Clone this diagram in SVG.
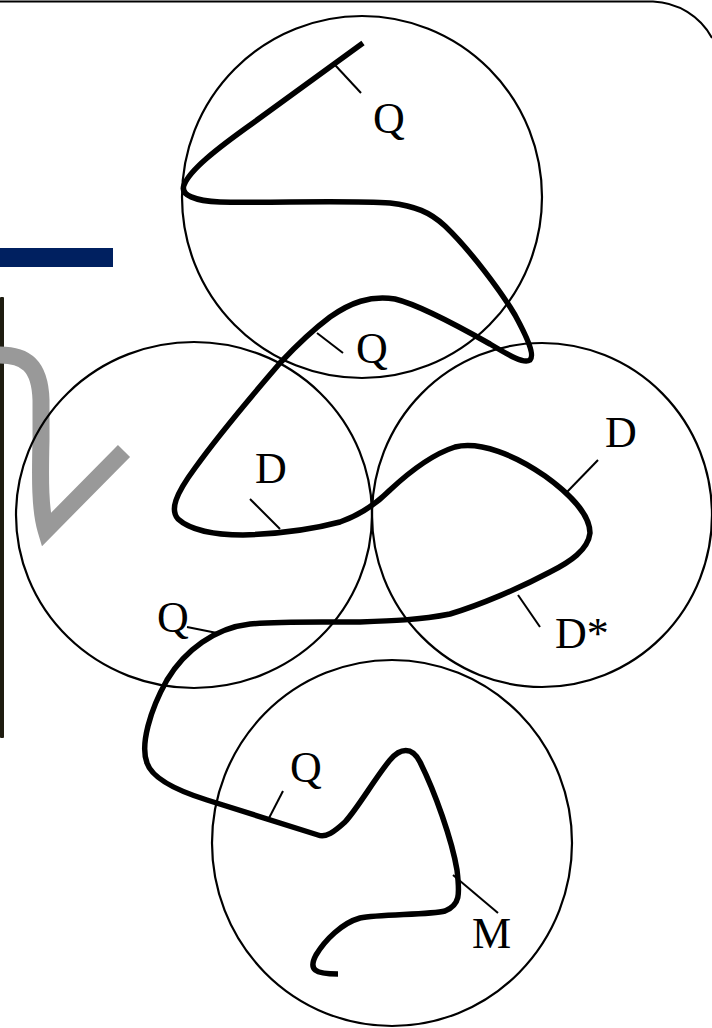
<svg xmlns="http://www.w3.org/2000/svg" width="712" height="1028" viewBox="0 0 712 1028">
<style>
.c{fill:none;stroke:#000;stroke-width:2.2}
.t{fill:none;stroke:#000;stroke-width:2}
.lab{font-family:"Liberation Serif","Times New Roman",serif;font-size:44px;fill:#000}
</style>
<rect width="712" height="1028" fill="#fff"/>
<g id="frame">
<path d="M0,1.5 L653,1.5 A70,70 0 0 1 712,38" fill="none" stroke="#000" stroke-width="2"/>
<rect x="0" y="248" width="113" height="19" fill="#002060"/>
<rect x="0" y="297" width="4" height="441" rx="1" fill="#1e1c10"/>
<path d="M0,355 C25,355 40,365 41,400 L41,440 C40,480 40,510 46,530 L124,451" fill="none" stroke="#999" stroke-width="17"/>
</g>
<g id="circle-top"><ellipse class="c" cx="362" cy="197" rx="180" ry="181"/></g>
<g id="circle-left"><ellipse class="c" cx="194" cy="515" rx="178" ry="173"/></g>
<g id="circle-right"><ellipse class="c" cx="542" cy="515" rx="170" ry="172"/></g>
<g id="circle-bottom"><ellipse class="c" cx="392" cy="843" rx="180" ry="183"/></g>
<g id="connectors">
<path fill="none" stroke="#000" stroke-width="5.5" stroke-linecap="butt" stroke-linejoin="round" d="M363,43 L253,123 C215,150 190,170 184,185 C180,195 195,201 220,202 C270,203 350,200 390,203 C415,206 430,212 445,226 C470,250 500,290 515,315 C527,337 535,355 530,360 C524,364 510,356 490,344 C460,327 420,305 395,299 C370,295 350,303 330,317 C310,332 295,347 280,363 C255,392 220,433 195,468 C175,495 170,510 178,519 C190,530 215,535 243,535 C275,534 310,530 340,522 C360,515 375,505 390,490 C405,476 430,455 455,447 C480,441 515,455 545,476 C570,494 590,515 590,533 C588,550 570,562 550,572 C520,588 480,605 450,614 C420,620 390,621 360,622 C320,622 280,621 250,624 C215,628 185,650 167,680 C150,710 140,745 147,763 C152,778 175,790 207,800 L318,835 C326,838 334,832 345,822 C358,808 375,778 390,760 C400,748 412,746 420,762 C435,792 452,840 457,870 C460,895 460,905 445,911 C430,915 380,914 360,918 C342,923 325,940 316,955 C308,970 315,974 338,974"/>
<line class="t" x1="335" y1="65" x2="361" y2="93"/>
<line class="t" x1="317" y1="333" x2="343" y2="353"/>
<line class="t" x1="250" y1="499" x2="280" y2="529"/>
<line class="t" x1="598" y1="460" x2="567" y2="492"/>
<line class="t" x1="518" y1="595" x2="540" y2="627"/>
<line class="t" x1="187" y1="627" x2="217" y2="633"/>
<line class="t" x1="283" y1="791" x2="268" y2="820"/>
<line class="t" x1="453" y1="875" x2="498" y2="913"/>
</g>
<g id="labels">
<text class="lab" x="373" y="133">Q</text>
<text class="lab" x="356" y="363">Q</text>
<text class="lab" x="255" y="483">D</text>
<text class="lab" x="605" y="447">D</text>
<text class="lab" x="555" y="648">D*</text>
<text class="lab" x="157" y="632">Q</text>
<text class="lab" x="290" y="782">Q</text>
<text class="lab" x="472" y="948">M</text>
</g>
</svg>
